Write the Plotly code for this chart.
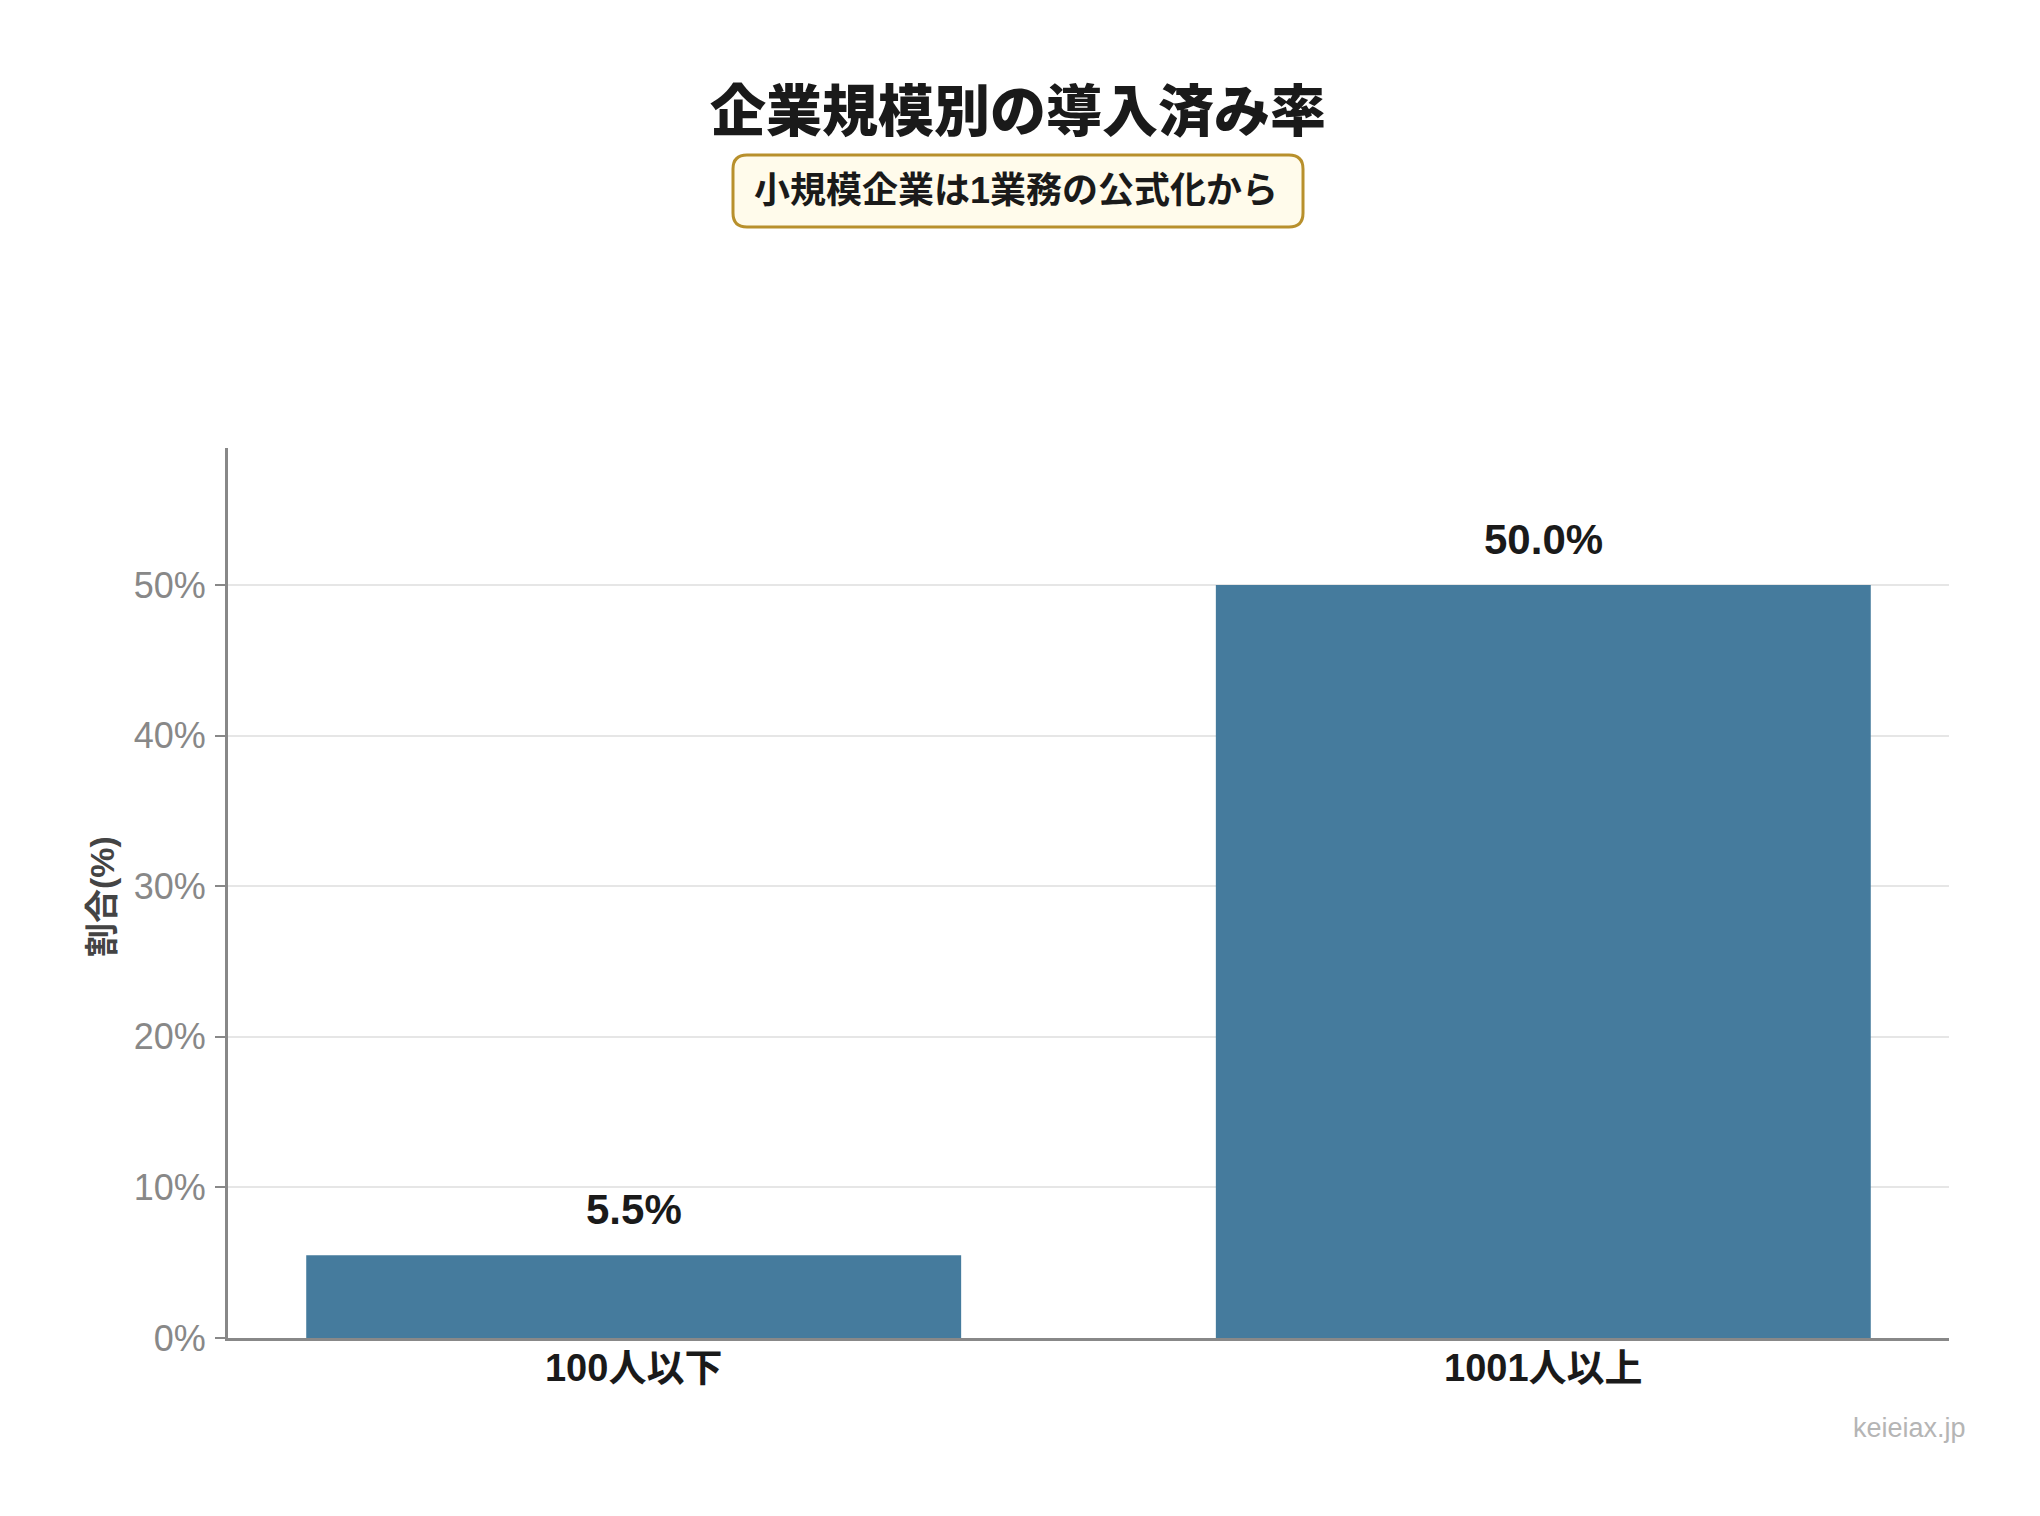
import plotly.graph_objects as go

# data
categories = ['100人以下', '1001人以上']
adoption_rates = [5.5, 50.0]
y_tickvals = [0, 10, 20, 30, 40, 50]
y_ticktext = [f'{v}%' for v in y_tickvals]

TITLE = '企業規模別の導入済み率'
SUBTITLE = '小規模企業は1業務の公式化から'
Y_TITLE = '割合(%)'
CREDIT = 'keieiax.jp'

W, H = 2040, 1516
M_L, M_R, M_T, M_B = 220, 99, 440, 186
FONT = 'Liberation Sans, Noto Sans CJK JP, sans-serif'
CJK_FONT = 'Noto Sans CJK JP, sans-serif'
BAR_COLOR = '#457b9d'


def _px_to_paper(x, y):
    """Convert page pixels to paper coordinates of the plot area."""
    pw = W - M_L - M_R
    ph = H - M_T - M_B
    return (x - M_L) / pw, (H - M_B - y) / ph


def _rounded_rect_path(x0, y0, x1, y1, r):
    """SVG path (paper coords) for a rounded box given in page pixels."""
    pts = {
        'a': _px_to_paper(x0 + r, y0), 'b': _px_to_paper(x1 - r, y0),
        'c': _px_to_paper(x1, y0), 'd': _px_to_paper(x1, y0 + r),
        'e': _px_to_paper(x1, y1 - r), 'f': _px_to_paper(x1, y1),
        'g': _px_to_paper(x1 - r, y1), 'h': _px_to_paper(x0 + r, y1),
        'i': _px_to_paper(x0, y1), 'j': _px_to_paper(x0, y1 - r),
        'k': _px_to_paper(x0, y0 + r), 'l': _px_to_paper(x0, y0),
    }
    p = {k: f'{v[0]:.5f},{v[1]:.5f}' for k, v in pts.items()}
    return (f"M {p['a']} L {p['b']} Q {p['c']} {p['d']} L {p['e']} "
            f"Q {p['f']} {p['g']} L {p['h']} Q {p['i']} {p['j']} "
            f"L {p['k']} Q {p['l']} {p['a']} Z")


fig = go.Figure()
fig.add_trace(go.Bar(
    x=categories,
    y=adoption_rates,
    width=0.72,
    marker=dict(color=BAR_COLOR, line=dict(width=0)),
    hovertemplate='%{x}: %{y:.1f}%<extra></extra>',
))

# value labels above the bars
for cat, val in zip(categories, adoption_rates):
    fig.add_annotation(
        x=cat, y=val, xref='x', yref='y',
        text=f'<b>{val:.1f}%</b>',
        showarrow=False, yanchor='bottom', yshift=20,
        font=dict(family=FONT, size=42, color='#1a1a1a'),
    )

# title and highlighted subtitle box
fig.add_annotation(
    text=TITLE, xref='paper', yref='paper',
    x=_px_to_paper(1010, 0)[0], y=_px_to_paper(0, 98)[1],
    showarrow=False, xanchor='center', yanchor='middle',
    font=dict(family=CJK_FONT, size=56, color='#1a1a1a', weight=900),
)
fig.add_shape(
    type='path', xref='paper', yref='paper',
    path=_rounded_rect_path(725, 147, 1295, 219, 14),
    fillcolor='#fffbeb', line=dict(color='#b8902c', width=3),
    layer='below',
)
fig.add_annotation(
    text=SUBTITLE, xref='paper', yref='paper',
    x=_px_to_paper(1008, 0)[0], y=_px_to_paper(0, 182)[1],
    showarrow=False, xanchor='center', yanchor='middle',
    font=dict(family=FONT, size=36, color='#1a1a1a', weight='bold'),
)

# y-axis title and credit
fig.add_annotation(
    text=f'<b>{Y_TITLE}</b>', xref='paper', yref='paper',
    x=_px_to_paper(94, 0)[0], y=_px_to_paper(0, 889)[1],
    showarrow=False, textangle=-90, xanchor='center', yanchor='middle',
    font=dict(family=FONT, size=34, color='#444444'),
)
fig.add_annotation(
    text=CREDIT, xref='paper', yref='paper',
    x=_px_to_paper(1960, 0)[0], y=_px_to_paper(0, 1420)[1],
    showarrow=False, xanchor='right', yanchor='middle',
    font=dict(family=FONT, size=27, color='#b5b5b5'),
)

fig.update_layout(
    width=W, height=H,
    margin=dict(l=M_L, r=M_R, t=M_T, b=M_B, autoexpand=False),
    paper_bgcolor='white', plot_bgcolor='white',
    showlegend=False,
    xaxis=dict(
        range=[-0.446, 1.446],
        showgrid=False, zeroline=False,
        showline=True, linecolor='#888888', linewidth=3,
        ticks='', ticklabelstandoff=-6,
        tickfont=dict(family=FONT, size=38, color='#1a1a1a', weight='bold'),
    ),
    yaxis=dict(
        range=[0, 59.1], tickvals=y_tickvals, ticktext=y_ticktext,
        showgrid=True, gridcolor='#e6e6e6', gridwidth=2,
        zeroline=False,
        showline=True, linecolor='#888888', linewidth=3,
        ticks='outside', ticklen=10, tickwidth=2, tickcolor='#888888',
        ticklabelstandoff=2,
        tickfont=dict(family=FONT, size=36, color='#888888'),
    ),
)

fig.write_html('out.html')
